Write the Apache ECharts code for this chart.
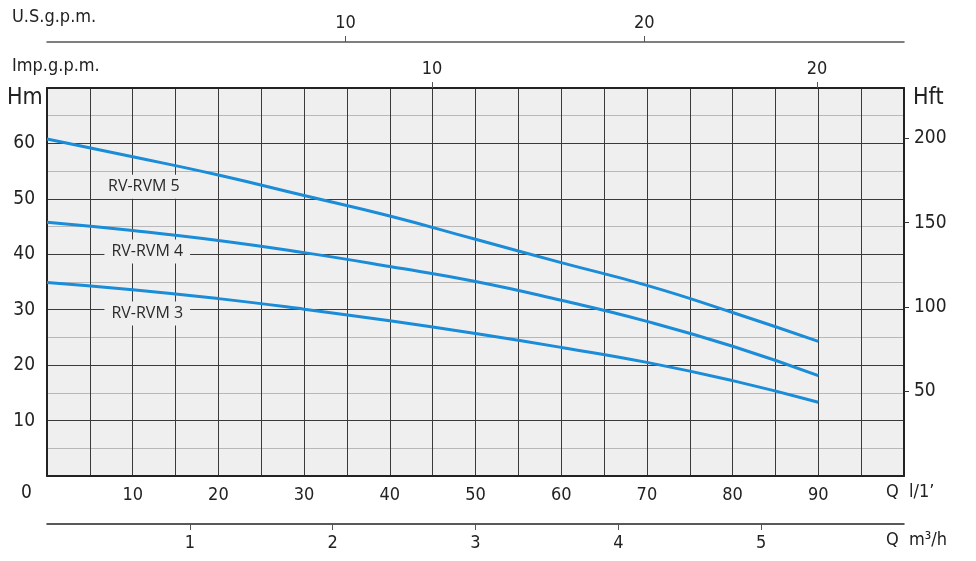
<!DOCTYPE html>
<html lang="en">
<head>
    <meta charset="utf-8" />
    <title>RV-RVM curves</title>
    <script src="https://cdn.jsdelivr.net/npm/echarts@6/dist/echarts.min.js"></script>
    <style>
        html, body { margin: 0; padding: 0; background: #fff; }
        #main { width: 976px; height: 561px; }
    </style>
</head>
<body>
    <div id="main"></div>
    <script type="text/javascript">
        // flow in l/min, head in m
        var flow = [0, 10, 20, 30, 40, 50, 60, 70, 80, 90];
        var rvm5 = [60.8, 57.6, 54.3, 50.6, 46.9, 42.7, 38.5, 34.4, 29.5, 24.3];
        var rvm4 = [45.8, 44.3, 42.5, 40.3, 37.8, 35.1, 31.7, 27.9, 23.4, 18.1];
        var rvm3 = [34.9, 33.6, 32.0, 30.1, 28.0, 25.7, 23.2, 20.5, 17.2, 13.3];
        var seriesNames = ['RV-RVM 5', 'RV-RVM 4', 'RV-RVM 3'];
        // where the curve names sit [l/min, m]
        var namePos = [[11.3, 52.2], [11.7, 40.5], [11.7, 29.3]];
        // tick labels of the secondary scales
        var usTicks = [10, 20];
        var impTicks = [10, 20];
        var m3hTicks = [1, 2, 3, 4, 5];
        var ftTicks = [50, 100, 150, 200];

        var font = 'DejaVu Sans Condensed';
        var txt = '#222';
        var blue = '#1a8cd8';

        function pairs(ys) {
            return flow.map(function (q, i) { return [q, ys[i]]; });
        }

        var myChart = echarts.init(document.getElementById('main'));

        function curve(name, ys, pos) {
            return {
                name: name,
                type: 'line',
                xAxisIndex: 0,
                yAxisIndex: 0,
                smooth: 0.5,
                symbol: 'none',
                lineStyle: { color: blue, width: 3 },
                data: pairs(ys),
                z: 5,
                markPoint: {
                    symbol: 'rect',
                    symbolSize: 0,
                    silent: true,
                    data: [{ coord: pos }],
                    label: {
                        show: true,
                        position: 'inside',
                        formatter: name,
                        fontFamily: 'Open Sans',
                        fontSize: 16,
                        color: '#2a2a2a',
                        backgroundColor: '#efefef',
                        padding: [4, 7]
                    }
                }
            };
        }

        function sideAxis(pos, offset, max, ticks, lineW, lineC) {
            return {
                type: 'value', position: pos, offset: offset, min: 0, max: max,
                axisLine: { show: true, onZero: false, lineStyle: { color: lineC, width: lineW } },
                axisTick: { show: true, length: 6, customValues: ticks, lineStyle: { color: '#555', width: 1 } },
                splitLine: { show: false },
                axisLabel: { fontFamily: font, fontSize: 18, color: txt, margin: 10, customValues: ticks }
            };
        }

        var option = {
            animation: false,
            grid: {
                left: 47, right: 72, top: 88, bottom: 85,
                show: true, backgroundColor: '#efefef', borderWidth: 0
            },
            xAxis: [
                {   // l/min
                    type: 'value', position: 'bottom', min: 0, max: 100, interval: 5,
                    axisLine: { show: true, onZero: false, lineStyle: { color: '#222', width: 2 } },
                    axisTick: { show: false },
                    splitLine: { show: true, lineStyle: { color: '#3a3a3a', width: 1 } },
                    axisLabel: {
                        fontFamily: font, fontSize: 18, color: txt, margin: 10,
                        formatter: function (v) { return (v % 10 === 0 && v > 0 && v < 100) ? String(v) : ''; }
                    }
                },
                sideAxis('top', 0, 22.26, impTicks, 2, '#222'),      // Imp. g.p.m.
                sideAxis('top', 46, 28.7, usTicks, 1.5, '#555'),     // U.S. g.p.m.
                sideAxis('bottom', 48, 6, m3hTicks, 1.5, '#222')     // m3/h
            ],
            yAxis: [
                {   // m
                    type: 'value', position: 'left', min: 0, max: 70, interval: 5,
                    axisLine: { show: true, onZero: false, lineStyle: { color: '#222', width: 2 } },
                    axisTick: { show: false },
                    splitLine: { show: true, lineStyle: { color: ['#3a3a3a', '#b8b8b8'], width: 1 } },
                    axisLabel: {
                        fontFamily: font, fontSize: 19, color: txt, margin: 12,
                        formatter: function (v) { return (v % 10 === 0 && v > 0 && v < 70) ? String(v) : ''; }
                    }
                },
                {   // ft
                    type: 'value', position: 'right', min: 0, max: 70 / 0.3048,
                    axisLine: { show: true, onZero: false, lineStyle: { color: '#222', width: 2 } },
                    axisTick: { show: true, length: 5, customValues: ftTicks, lineStyle: { color: '#333', width: 1 } },
                    splitLine: { show: false },
                    axisLabel: { fontFamily: font, fontSize: 19, color: txt, margin: 10, customValues: ftTicks }
                }
            ],
            graphic: [
                { type: 'text', left: 12, top: 8, style: { text: 'U.S.g.p.m.', font: '18px "' + font + '"', fill: txt } },
                { type: 'text', left: 12, top: 57, style: { text: 'Imp.g.p.m.', font: '18px "' + font + '"', fill: txt } },
                { type: 'text', left: 7, top: 87, style: { text: 'Hm', font: '23px "' + font + '"', fill: txt } },
                { type: 'text', left: 913, top: 87, style: { text: 'Hft', font: '23px "' + font + '"', fill: txt } },
                { type: 'text', left: 21, top: 484, style: { text: '0', font: '19px "' + font + '"', fill: txt } },
                { type: 'text', left: 886, top: 483, style: { text: 'Q  l/1’', font: '18px "' + font + '"', fill: txt } },
                { type: 'text', left: 886, top: 531, style: { text: 'Q  m³/h', font: '18px "' + font + '"', fill: txt } }
            ],
            series: [
                curve(seriesNames[0], rvm5, namePos[0]),
                curve(seriesNames[1], rvm4, namePos[1]),
                curve(seriesNames[2], rvm3, namePos[2])
            ]
        };

        myChart.setOption(option);

        window.onresize = function () {
            myChart.resize();
        };
    </script>
</body>
</html>
